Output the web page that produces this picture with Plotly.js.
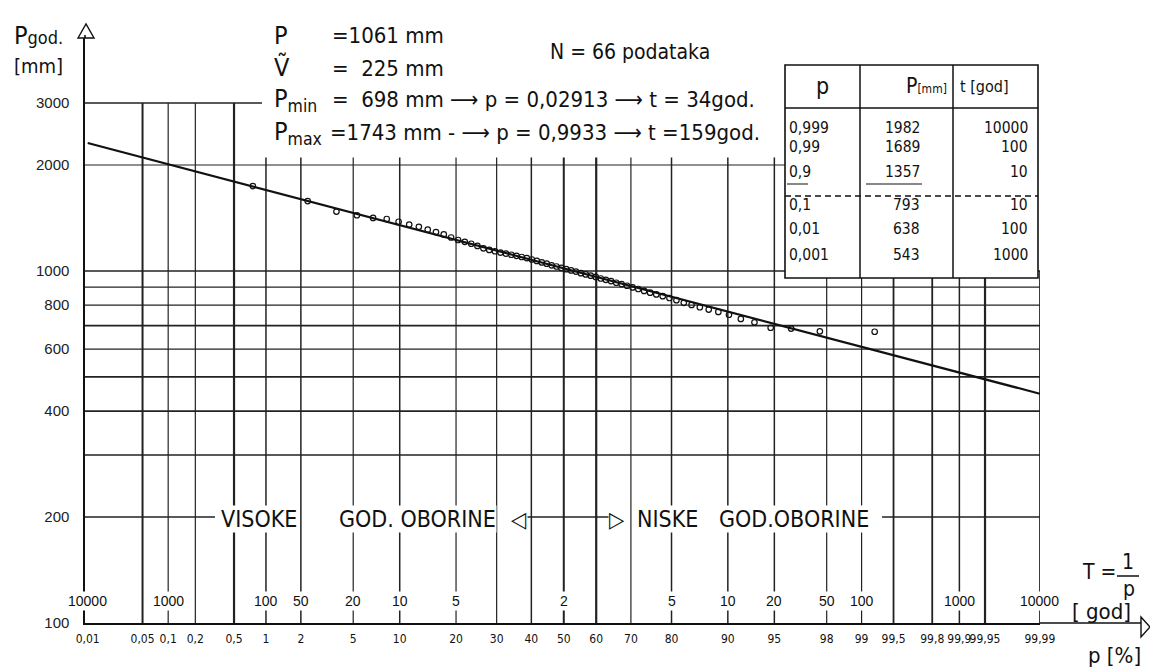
<!DOCTYPE html>
<html><head><meta charset="utf-8">
<script src="https://cdn.plot.ly/plotly-3.0.1.min.js"></script>
<style>html,body{margin:0;padding:0;background:#fff}</style>
</head><body>
<div id="chart" style="width:1150px;height:668px"></div>
<script>
// ---------------- data ----------------
const pTicks = [0.01,0.05,0.1,0.2,0.5,1,2,5,10,20,30,40,50,60,70,80,90,95,98,99,99.5,99.8,99.9,99.95,99.99];
const pTickText = ["0,01","0,05","0,1","0,2","0,5","1","2","5","10","20","30","40","50","60","70","80","90","95","98","99","99,5","99,8","99,9","99,95","99,99"];
const tTickP = [0.01,0.1,1,2,5,10,20,50,80,90,95,98,99,99.9,99.99];
const tTickText = ["10000","1000","100","50","20","10","5","2","5","10","20","50","100","1000","10000"];
const yTicks = [100,200,400,600,800,1000,2000,3000];
const yTickText = ["100","200","400","600","800","1000","2000","3000"];
const gridY = [3000,2000,1000,900,800,700,600,500,400,300,200];
const fitP = [0.01, 99.99];
const fitMM = [2310, 448];
const obsP = [0.758,2.273,3.788,5.303,6.818,8.333,9.848,11.364,12.879,14.394,15.909,17.424,18.939,20.455,21.970,23.485,25.000,26.515,28.030,29.545,31.061,32.576,34.091,35.606,37.121,38.636,40.152,41.667,43.182,44.697,46.212,47.727,49.242,50.758,52.273,53.788,55.303,56.818,58.333,59.848,61.364,62.879,64.394,65.909,67.424,68.939,70.455,71.970,73.485,75.000,76.515,78.030,79.545,81.061,82.576,84.091,85.606,87.121,88.636,90.152,91.667,93.182,94.697,96.212,97.727,99.242];
const obsMM = [1743,1580,1475,1440,1415,1405,1380,1355,1335,1310,1290,1270,1245,1225,1210,1195,1178,1160,1148,1138,1128,1120,1112,1104,1096,1088,1078,1068,1058,1049,1038,1030,1020,1012,1004,996,986,978,970,962,952,944,936,926,918,908,898,889,878,868,858,848,838,826,812,801,789,777,765,751,731,715,690,686,674,672];
const tableP = ["0,999","0,99","0,9","0,1","0,01","0,001"];
const tableMM = ["1982","1689","1357","793","638","543"];
const tableT = ["10000","100","10","10","100","1000"];

// ---------------- probability scale ----------------
function qnorm(p){
  const a=[-3.969683028665376e+01,2.209460984245205e+02,-2.759285104469687e+02,1.383577518672690e+02,-3.066479806614716e+01,2.506628277459239e+00];
  const b=[-5.447609879822406e+01,1.615858368580409e+02,-1.556989798598866e+02,6.680131188771972e+01,-1.328068155288572e+01];
  const c=[-7.784894002430293e-03,-3.223964580411365e-01,-2.400758277161838e+00,-2.549732539343734e+00,4.374664141464968e+00,2.938163982698783e+00];
  const d=[7.784695709041462e-03,3.224671290700398e-01,2.445134137142996e+00,3.754408661907416e+00];
  const pl=0.02425, ph=1-pl; let q,r;
  if(p<pl){q=Math.sqrt(-2*Math.log(p));return (((((c[0]*q+c[1])*q+c[2])*q+c[3])*q+c[4])*q+c[5])/((((d[0]*q+d[1])*q+d[2])*q+d[3])*q+1);}
  if(p<=ph){q=p-0.5;r=q*q;return (((((a[0]*r+a[1])*r+a[2])*r+a[3])*r+a[4])*r+a[5])*q/(((((b[0]*r+b[1])*r+b[2])*r+b[3])*r+b[4])*r+1);}
  q=Math.sqrt(-2*Math.log(1-p));return -(((((c[0]*q+c[1])*q+c[2])*q+c[3])*q+c[4])*q+c[5])/((((d[0]*q+d[1])*q+d[2])*q+d[3])*q+1);
}
const z = p => qnorm(p/100);

// ---------------- geometry helpers (paper coords from pixels) ----------------
const ML=85, MT=35, PW=955, PH=588;
const px = x => (x-ML)/PW;
const py = y => (MT+PH-y)/PH;
const FONT = "'DejaVu Sans Condensed','DejaVu Sans',sans-serif";
const WIDE = "'Liberation Sans',Arial,sans-serif";
const INK = '#111';

const shapes = [];
const annotations = [];

// vertical grid lines
const vWidth = {0.05:2,0.5:2.2,1:1.5,2:1.5,10:1.5,40:1.5,50:2,60:2.2,80:1.5,90:1.5,95:1.5,99.5:1.8,99.8:1.8,99.9:1.5,99.95:2.2,99.99:1.5};
pTicks.forEach(p=>{
  if(p===0.01) return;
  const top = p<=0.5 ? 3000 : (p<=95 ? 2100 : 1000);
  shapes.push({type:'line',xref:'x',yref:'y',x0:z(p),x1:z(p),y0:100,y1:top,layer:'below',
    line:{color:'#222',width:vWidth[p]||1.2}});
});
// horizontal grid lines
const hExtent = {3000:[[85,262]],2000:[[85,785]],200:[[85,215],[525,612],[882,1040]]};
const hWidth = {3000:1.5,1000:1.6,700:1.8,500:1.8,400:1.8,300:1.5,200:1.5};
gridY.forEach(v=>{
  (hExtent[v]||[[85,1040]]).forEach(seg=>{
    shapes.push({type:'line',xref:'paper',yref:'y',x0:px(seg[0]),x1:px(seg[1]),y0:v,y1:v,layer:'below',
      line:{color:'#222',width:hWidth[v]||1.1}});
  });
});
// x-axis extension with arrow, y-axis arrow
shapes.push({type:'line',xref:'paper',yref:'paper',x0:1,x1:px(1141),y0:0,y1:0,line:{color:INK,width:1.6}});
shapes.push({type:'path',xref:'paper',yref:'paper',
  path:`M ${px(1141)} ${py(617)} L ${px(1150)} ${py(627)} L ${px(1141)} ${py(637)} Z`,
  fillcolor:'#fff',line:{color:INK,width:1.4}});
shapes.push({type:'path',xref:'paper',yref:'paper',
  path:`M ${px(78)} ${py(38)} L ${px(86)} ${py(24)} L ${px(94)} ${py(38)} Z`,
  fillcolor:'#fff',line:{color:INK,width:1.4}});
shapes.push({type:'line',xref:'paper',yref:'paper',x0:0,x1:0,y0:1,y1:py(38),line:{color:INK,width:1.6}});

// table
const TX0=785, TX1=1038, TY0=65, TY1=278;
shapes.push({type:'rect',xref:'paper',yref:'paper',x0:px(TX0),x1:px(TX1),y0:py(TY0),y1:py(TY1),
  fillcolor:'#fff',line:{color:INK,width:1.6}});
[860,953].forEach(x=>shapes.push({type:'line',xref:'paper',yref:'paper',x0:px(x),x1:px(x),y0:py(TY0),y1:py(TY1),line:{color:INK,width:1.5}}));
shapes.push({type:'line',xref:'paper',yref:'paper',x0:px(TX0),x1:px(TX1),y0:py(108),y1:py(108),line:{color:INK,width:1.5}});
shapes.push({type:'line',xref:'paper',yref:'paper',x0:px(TX0),x1:px(TX1),y0:py(196),y1:py(196),line:{color:INK,width:1.3,dash:'6px,4px'}});
[[787,808],[866,922]].forEach(s=>shapes.push({type:'line',xref:'paper',yref:'paper',x0:px(s[0]),x1:px(s[1]),y0:py(184),y1:py(184),line:{color:INK,width:1}}));

function txt(text,x,y,size,xanchor,extra,family){
  annotations.push(Object.assign({text:text,xref:'paper',yref:'paper',x:px(x),y:py(y),
    xanchor:xanchor||'left',yanchor:'middle',showarrow:false,
    font:{family:family||FONT,size:size,color:INK}},extra||{}));
}
// table text
txt('p',822,86,23,'center');
txt("P<span style='font-size:12px'>[mm]</span>",949,86,21,'right');
txt('t [god]',958,86,16,'left');
const rowY=[128,147,172,205,229,255];
tableP.forEach((t,i)=>{
  txt(t,787,rowY[i],15.5,'left');
  txt(tableMM[i],922,rowY[i],15.5,'right');
  txt(tableT[i],1030,rowY[i],15.5,'right');
});

// header block
txt("P<span style='font-size:18px'>god.</span>",12,35,25,'left');
txt('[mm]',12,66,20,'left');
txt('P',272,35,25,'left');
txt('=1061 mm',330,35,22,'left');
txt('Ṽ',272,67,25,'left');
txt('=  225 mm',330,68,22,'left');
txt("P<sub>min</sub>",272,100,25,'left');
txt('=  698 mm ⟶ p = 0,02913 ⟶ t = 34god.',330,100,22,'left');
txt("P<sub>max</sub>",272,133,25,'left');
txt('=1743 mm - ⟶ p = 0,9933 ⟶ t =159god.',328,133,22,'left');
txt('N = 66 podataka',548,52,21,'left');

// 200-line captions
const wb = {bgcolor:'#fff',borderpad:0};
txt('VISOKE',220,519,23,'left',wb);
txt('GOD. OBORINE',338,519,23,'left',wb);
txt('◁',510,519,22,'left',wb);
txt('▷',608,519,22,'left',wb);
txt('NISKE',636,519,23,'left',wb);
txt('GOD.OBORINE',718,519,23,'left',wb);

// return period labels (T) above the axis
tTickP.forEach((p,i)=>{
  annotations.push({text:tTickText[i],xref:'x',yref:'paper',x:z(p),y:py(601),xanchor:'center',yanchor:'middle',
    showarrow:false,bgcolor:'#fff',borderpad:1,font:{family:WIDE,size:14,color:INK}});
});
// right-hand axis titles
txt('T =',1080,572,21,'left');
txt('1',1128,562,21,'center');
shapes.push({type:'line',xref:'paper',yref:'paper',x0:px(1117),x1:px(1139),y0:py(576),y1:py(576),line:{color:INK,width:1.5}});
txt('p',1129,589,21,'center');
txt('[ god]',1070,611,22,'left');
txt('p [%]',1086,655,22,'left');

// ---------------- traces ----------------
const traces = [
  {type:'scatter',mode:'lines',x:fitP.map(z),y:fitMM,line:{color:INK,width:2.2},hoverinfo:'skip'},
  {type:'scatter',mode:'markers',x:obsP.map(z),y:obsMM,
    marker:{symbol:'circle-open',size:5.5,color:INK,line:{width:1.2,color:INK}},hoverinfo:'skip'}
];

const layout = {
  width:1150,height:668,
  margin:{l:ML,r:1150-ML-PW,t:MT,b:668-MT-PH,pad:0},
  paper_bgcolor:'#fff',plot_bgcolor:'rgba(0,0,0,0)',
  showlegend:false,
  font:{family:FONT,color:INK},
  xaxis:{type:'linear',range:[-3.74,3.72],showgrid:false,zeroline:false,showline:true,linecolor:INK,linewidth:1.6,
    tickmode:'array',tickvals:pTicks.map(z),ticktext:pTickText,tickangle:0,
    ticks:'outside',ticklen:4,tickcolor:'rgba(0,0,0,0)',
    tickfont:{family:FONT,size:12,color:INK},fixedrange:true},
  yaxis:{type:'log',range:[2,2+PH/352],showgrid:false,zeroline:false,showline:true,linecolor:INK,linewidth:1.6,
    tickmode:'array',tickvals:yTicks,ticktext:yTickText,
    ticks:'outside',ticklen:11,tickcolor:'rgba(0,0,0,0)',
    tickfont:{family:WIDE,size:15,color:'#222'},fixedrange:true},
  shapes:shapes,
  annotations:annotations
};
Plotly.newPlot('chart',traces,layout,{staticPlot:true,displayModeBar:false});
</script>
</body></html>
